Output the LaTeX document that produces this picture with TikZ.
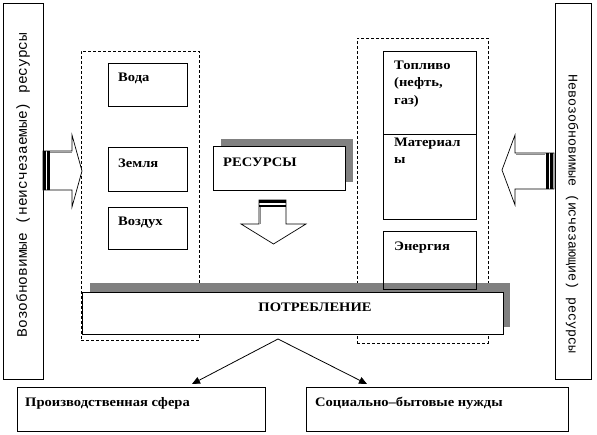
\documentclass[tikz,border=0pt]{standalone}
\usepackage{fontspec}
\setmainfont{Liberation Serif}[FakeStretch=1.12]
\newfontfamily\monofam{Liberation Mono}
\usetikzlibrary{arrows.meta}
\newcommand\pixbox[6]{\node[#6, minimum width={#4-#2}, minimum height={#5-#3}] (#1) at ({(#2+#4)/2},{(#3+#5)/2}) {};}
\begin{document}
\begin{tikzpicture}[x=1pt,y=-1pt,
  box/.style={draw, line width=0.9pt, fill=white, inner sep=0pt, outer sep=0pt},
  openbox/.style={draw, line width=0.9pt, inner sep=0pt, outer sep=0pt},
  dbox/.style={draw, line width=0.8pt, dash pattern=on 3pt off 2pt, inner sep=0pt, outer sep=0pt},
  shadowbox/.style={fill=black!50, draw=none, inner sep=0pt, outer sep=0pt},
  lbl/.style={font=\bfseries\fontsize{13}{17.5}\selectfont, inner sep=0pt, anchor=west},
  mlbl/.style={font=\bfseries\fontsize{13}{17.5}\selectfont, inner sep=0pt, anchor=north west, align=left},
  vtext/.style={inner sep=0pt},
  blockarrow/.style={draw=black, line width=0.7pt, fill=white, line join=miter},
  stripe/.style={fill=black, draw=none},
  conn/.style={line width=0.8pt, -{Triangle[length=8pt,width=7pt]}}]
\useasboundingbox (0,0) rectangle (597,434);
\fill[white] (0,0) rectangle (597,434);

% side boxes
\pixbox{leftres}{3}{3}{43}{379}{box}
\pixbox{rightres}{555}{3}{591}{379}{box}
\node[vtext, rotate=90, font=\monofam\fontsize{14.5}{16}\selectfont] (lefttext) at (23,185) {Возобновимые (неисчезаемые) ресурсы};
\node[vtext, rotate=-90, font=\monofam\fontsize{13.3}{15}\selectfont] (righttext) at (572,214) {Невозобновимые (исчезающие) ресурсы};

% dashed groups
\pixbox{leftgroup}{81}{51}{199}{340}{dbox}
\pixbox{rightgroup}{357}{38}{488}{343}{dbox}

% left inner boxes
\pixbox{voda}{108}{63}{187}{106}{box}
\pixbox{zemlya}{108}{147}{187}{191}{box}
\pixbox{vozduh}{108}{207}{187}{249}{box}
\node[lbl] (vodat) at (118,78) {Вода};
\node[lbl] (zemlyat) at (118,163) {Земля};
\node[lbl] (vozduht) at (118,223) {Воздух};

% resources box
\pixbox{resshadow}{221}{139}{353}{182}{shadowbox}
\pixbox{res}{213}{146}{345}{190}{box}
\node[lbl] (rest) at (223,162) {РЕСУРСЫ};

% consumption shadow
\pixbox{potrshadow}{90}{283}{510}{327}{shadowbox}

% right inner boxes
\pixbox{toplivo}{383}{51}{476}{134}{openbox}
\pixbox{material}{383}{134}{476}{219}{openbox}
\pixbox{energy}{383}{231}{476}{289}{openbox}
\node[mlbl] (toplivot) at (394,60.5) {Топливо\\(нефть,\\газ)};
\node[mlbl] (materialt) at (394,137.7) {Материал\\ы};
\node[lbl] (energyt) at (394,248) {Энергия};

% consumption box
\pixbox{potr}{82}{292}{503}{334}{box}
\node[font=\bfseries\fontsize{13}{15}\selectfont, inner sep=0pt] (potrt) at (315,307) {ПОТРЕБЛЕНИЕ};

% bottom boxes
\pixbox{prod}{17}{387}{265}{431}{box}
\pixbox{soc}{306}{387}{568}{431}{box}
\node[lbl] (prodt) at (25,403) {Производственная сфера};
\node[lbl] (soct) at (315,403) {Социально–бытовые нужды};

% block arrows
\draw[blockarrow] (43,151) -- (72,151) -- (72,135) -- (82,171) -- (72,207) -- (72,190) -- (43,190) -- cycle;
\draw[black!45, line width=1.2pt] (50,152.3) -- (71.5,152.3);
\fill[stripe] (43,151) rectangle (45.5,190);
\fill[stripe] (47,151) rectangle (49.5,190);

\draw[blockarrow] (554,153) -- (515,153) -- (515,135) -- (502,170) -- (515,205) -- (515,189) -- (554,189) -- cycle;
\draw[black!45, line width=1.2pt] (545,154.3) -- (515.5,154.3);
\fill[stripe] (546,153) rectangle (548.5,189);
\fill[stripe] (550,153) rectangle (552.5,189);

\draw[blockarrow] (259,200) -- (286,200) -- (286,224) -- (306,224) -- (273.5,244) -- (241,224) -- (259,224) -- cycle;
\draw[black!45, line width=1.2pt] (260.3,207) -- (260.3,223.5);
\fill[stripe] (259,200) rectangle (286,202.5);
\fill[stripe] (259,204.5) rectangle (286,207);

% connectors
\coordinate (apex) at (278,339);
\coordinate (tipL) at (192,384);
\coordinate (tipR) at (367,384);
\draw[conn] (apex) -- (tipL);
\draw[conn] (apex) -- (tipR);
\end{tikzpicture}
\end{document}
